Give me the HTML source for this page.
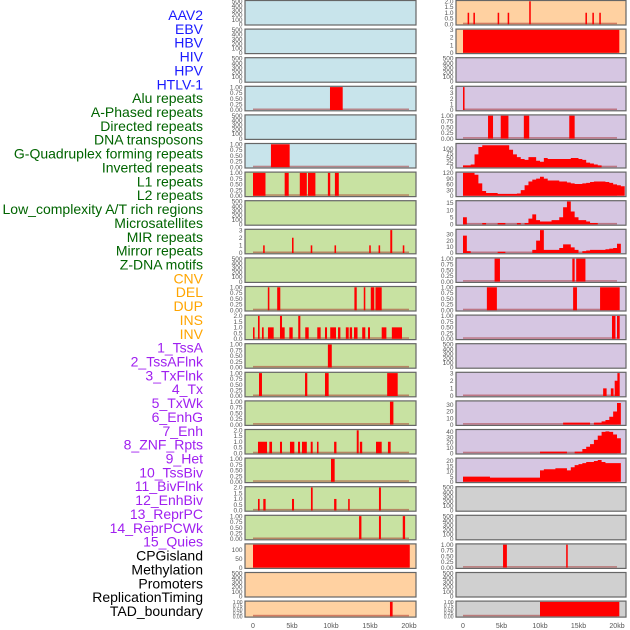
<!DOCTYPE html>
<html><head><meta charset="utf-8"><style>
html,body{margin:0;padding:0;background:#fff;}
svg{display:block;font-family:"Liberation Sans",sans-serif;}
</style></head><body>
<svg id="chart" width="630" height="630" viewBox="0 0 630 630" xmlns="http://www.w3.org/2000/svg"></svg>
<script>
// ---------- labels ----------
const rowLabels = ["AAV2","EBV","HBV","HIV","HPV","HTLV-1","Alu repeats","A-Phased repeats","Directed repeats","DNA transposons","G-Quadruplex forming repeats","Inverted repeats","L1 repeats","L2 repeats","Low_complexity A/T rich regions","Microsatellites","MIR repeats","Mirror repeats","Z-DNA motifs","CNV","DEL","DUP","INS","INV","1_TssA","2_TssAFlnk","3_TxFlnk","4_Tx","5_TxWk","6_EnhG","7_Enh","8_ZNF_Rpts","9_Het","10_TssBiv","11_BivFlnk","12_EnhBiv","13_ReprPC","14_ReprPCWk","15_Quies","CPGisland","Methylation","Promoters","ReplicationTiming","TAD_boundary"];
const labelGroups = [6,13,5,15,5];
const groupColors = ["#1a1aff","#006400","#ffa500","#a020f0","#000000"];
// ---------- ticks ----------
const t500 = ["0","100","200","300","400","500"];
const t1 = ["0.00","0.25","0.50","0.75","1.00"];
const t2 = ["0.0","0.5","1.0","1.5","2.0"];
const t3 = ["0","1","2","3"];
const t4 = ["0","1","2","3","4"];
const xTickVals = [0,5,10,15,20];
const xTickLabels = ["0","5kb","10kb","15kb","20kb"];
// ---------- data: bars [startKb,endKb,value] ----------
const r0R = [[0.6,0.8,1],[1.35,1.55,1],[4.5,4.7,1],[5.8,6.0,1],[15.9,16.1,1],[16.8,17.0,1],[17.7,17.9,1],[8.6,8.8,2]];
const r1R = [[0,20.3,3]];
const r3L = [[9.87,11.5,1]];
const r3R = [[0,0.2,4]];
const r4R = [[3.25,3.9,1],[4.9,5.9,1],[7.9,8.6,1],[13.8,14.5,1]];
const r5L = [[2.3,4.7,1]];
const r6L = [[0,1.6,1],[4.06,4.58,1],[6.0,6.9,1],[7.05,8.0,1],[9.6,9.9,1],[10.5,11.0,1]];
const r8L = [[1.3,1.5,1],[5.0,5.2,2],[7.4,7.6,1],[10.45,10.65,1],[14.9,15.1,1],[16.1,16.3,1],[17.6,17.85,3],[19.2,19.4,1]];
const r9R = [[4.1,4.8,1],[14.2,14.5,1],[14.7,15.9,1]];
const r10L = [[1.9,2.1,1],[3.1,3.5,1],[13.0,13.3,1],[14.2,14.4,1],[15.1,15.55,1],[15.7,16.5,1]];
const r10R = [[3.1,4.4,1],[14.3,14.8,1],[17.8,20.35,1]];
const r11L = [[0,0.2,1],[0.64,0.85,2],[1.15,1.37,1],[1.92,2.65,1],[3.46,3.72,2],[3.72,4.06,1],[4.66,5.09,1],[5.8,6.07,2],[6.7,7.14,1],[8.24,8.67,1],[9.23,9.49,1],[9.9,10.64,1],[10.9,11.2,1],[11.9,12.27,1],[12.4,12.7,1],[12.95,13.4,1],[14.0,14.4,1],[14.74,15.0,1],[16.5,17.1,1],[17.8,19.1,1]];
const r11R = [[19.35,19.8,1],[20.0,20.35,1]];
const r12L = [[9.6,10.1,1]];
const r13L = [[0.77,1.15,1],[6.67,6.96,1],[9.23,9.7,1],[17.2,18.55,1]];
const r13R = [[18.2,18.65,1],[19.2,19.55,1],[19.7,20.1,2],[20.05,20.35,3]];
const r14L = [[17.56,18.0,1]];
const r15L = [[0.64,1.8,1],[2.1,2.44,1],[3.46,3.72,1],[4.74,5.3,1],[5.77,6.03,1],[6.28,6.9,1],[7.4,7.65,1],[8.2,8.4,1],[10.4,10.7,1],[13.3,13.55,2],[13.7,14.0,1],[15.77,16.5,1],[17.3,17.65,1]];
const r16L = [[10.0,10.47,1]];
const r17L = [[0.64,0.85,1],[1.32,1.62,1],[5.0,5.26,1],[7.43,7.65,2],[10.4,10.7,1],[12.2,12.4,1],[16.15,16.4,2]];
const r18L = [[13.6,13.9,1],[16.15,16.4,1],[19.2,19.5,1]];
const r19L = [[0,20.1,130]];
const r19R = [[5.2,5.7,1],[13.4,13.6,1]];
const r21L = [[17.56,17.9,1]];
const r21R = [[10.0,20.3,1]];
// ---------- data: area profiles, values per 0.5kb bin starting at 0kb ----------
const r5R = [10,10,15,70,110,120,120,120,120,120,120,120,95,70,55,45,40,55,55,35,30,50,45,45,45,45,45,45,50,50,45,40,25,20,15,10];
const r6R = [120,120,120,110,65,25,15,15,15,10,10,10,10,10,12,30,55,75,85,90,100,90,80,80,80,75,75,70,65,62,62,65,68,72,75,75,75,72,68,60,55,50];
const r7R = [5,0,0,0,0,1,0,0,0,1,1,0,0,0,1,0,1,4,7,3,2,2,2,3,3,5,12,16,9,5,3,3,2,1,1,0];
const r8R = [28,3,0,0,0,0,0,0,0,2,2,0,0,0,0,0,0,0,5,20,37,5,5,5,5,8,14,14,9,5,0,3,4,5,5,5,5,6,7,8,15];
const r14R = [0,0,0,0,0,0,0,0,0,0,0,0,0,0,0,0,0,0,0,0,0,0,0,0,0,0,3,3,3,3,3,3,3,0,3,3,5,7,12,20,33];
const r15R = [0,0,0,0,0,0,0,0,0,0,0,0,0,0,0,0,0,0,0,0,3,3,3,3,3,3,3,0,0,3,3,8,12,17,25,33,40,41,40,35,28];
const r16R = [5,5,5,5,5,5,5,4,4,4,4,4,4,4,4,4,4,4,4,4,11,12,12,12,13,13,13,11,14,16,17,18,19,19,20,21,19,18,18,18,18];

const BLUE="#c8e4eb", GREEN="#c8e2a2", PEACH="#ffd1a1", LAV="#d6c6e2", GRAY="#d0d0d0";
// panel list: [row, side, bg, ticks, ymax, type, data]
const panels = [
 [0,0,BLUE,t500,500,"e",null],[0,1,PEACH,t2,2,"b",r0R],
 [1,0,BLUE,t500,500,"e",null],[1,1,PEACH,t3,3,"b",r1R],
 [2,0,BLUE,t500,500,"e",null],[2,1,LAV,t500,500,"e",null],
 [3,0,BLUE,t1,1,"b",r3L],[3,1,LAV,t4,4,"b",r3R],
 [4,0,BLUE,t500,500,"e",null],[4,1,LAV,t1,1,"b",r4R],
 [5,0,BLUE,t1,1,"b",r5L],[5,1,LAV,["0","25","50","75","100"],125,"a",r5R],
 [6,0,GREEN,t1,1,"b",r6L],[6,1,LAV,["0","30","60","90","120"],120,"a",r6R],
 [7,0,GREEN,t500,500,"e",null],[7,1,LAV,["0","5","10","15"],16,"a",r7R],
 [8,0,GREEN,t3,3,"b",r8L],[8,1,LAV,["0","10","20","30"],37,"a",r8R],
 [9,0,GREEN,t500,500,"e",null],[9,1,LAV,t1,1,"b",r9R],
 [10,0,GREEN,t1,1,"b",r10L],[10,1,LAV,t1,1,"b",r10R],
 [11,0,GREEN,t2,2,"b",r11L],[11,1,LAV,t1,1,"b",r11R],
 [12,0,GREEN,t1,1,"b",r12L],[12,1,LAV,t500,500,"e",null],
 [13,0,GREEN,t1,1,"b",r13L],[13,1,LAV,t3,3,"b",r13R],
 [14,0,GREEN,t1,1,"b",r14L],[14,1,LAV,["0","10","20","30"],35,"a",r14R],
 [15,0,GREEN,t2,2,"b",r15L],[15,1,LAV,["0","10","20","30","40"],43,"a",r15R],
 [16,0,GREEN,t1,1,"b",r16L],[16,1,LAV,["0","5","10","15","20"],22,"a",r16R],
 [17,0,GREEN,t2,2,"b",r17L],[17,1,GRAY,t500,500,"e",null],
 [18,0,GREEN,t1,1,"b",r18L],[18,1,GRAY,t500,500,"e",null],
 [19,0,PEACH,["0","50","100"],130,"b",r19L],[19,1,GRAY,t1,1,"b",r19R],
 [20,0,PEACH,t500,500,"e",null],[20,1,GRAY,t500,500,"e",null],
 [21,0,PEACH,t1,1,"b",r21L],[21,1,GRAY,t1,1,"b",r21R]
];

const NS="http://www.w3.org/2000/svg";
const svg=document.getElementById("chart");
function mk(tag,attrs,parent){const e=document.createElementNS(NS,tag);for(const k in attrs)e.setAttribute(k,attrs[k]);(parent||svg).appendChild(e);return e;}
function xScale(side,kb){return side===0?253+kb*7.8:463+kb*7.7;}
function rowTop(r){return r*28.6+0.5;}
function rowH(r){return r===21?16:24.5;}
const panelX=[245,456], panelW=[171,170];

// labels
let li=0;
labelGroups.forEach((n,g)=>{for(let k=0;k<n;k++){
  const t=mk("text",{x:203,y:15+li*13.86+5,"text-anchor":"end","font-size":"14",fill:groupColors[g]});
  t.textContent=rowLabels[li];
  
  
  li++;}});

panels.forEach(p=>{
  const [row,side,bg,ticks,ymax,type,data]=p;
  const top=rowTop(row), h=rowH(row), px=panelX[side], pw=panelW[side];
  const g=mk("g",{});
  
  
  mk("rect",{x:px,y:top,width:pw,height:h,fill:bg,stroke:"#666","stroke-width":1.2},g);
  const y0=top+h-0.8, yTop=top+0.8;
  const yS=v=>y0-(Math.min(v,ymax)/ymax)*(y0-yTop);
  // ticks
  const n=ticks.length;
  ticks.forEach((lab,i)=>{
    const tv = (n===3 && ymax===130) ? [0,50,100][i] : i/(n-1)*(type==="e"?1:(ticks===t1||ticks===t2||ticks===t3||ticks===t4?1:0));
    let ty;
    if(n===3&&ymax===130) ty=yS(tv);
    else if(ticks===t1||ticks===t2||ticks===t3||ticks===t4||type==="e") ty=y0-i/(n-1)*(y0-yTop);
    else ty=yS(parseFloat(lab));
    const t=mk("text",{x:px-2.5,y:ty+2.2,"text-anchor":"end","font-size":row===21?"5":"6.5",fill:"#555"},g);
    t.textContent=lab;
    
    
  });
  if(type!=="e"){
    mk("rect",{x:xScale(side,0),y:y0-1.5,width:xScale(side,20)-xScale(side,0),height:1.5,fill:"rgba(160,20,20,0.45)"},g);
  }
  if(type==="b"){
    data.forEach(d=>{
      const x1=xScale(side,d[0]),x2=xScale(side,d[1]);
      const r=mk("rect",{x:x1,y:yS(d[2]),width:Math.max(1.2,x2-x1),height:y0-yS(d[2]),fill:"#ff0000"},g);
      
      
    });
  } else if(type==="a"){
    let dpath="M"+xScale(side,0)+","+y0;
    data.forEach((v,i)=>{
      const xa=xScale(side,i*0.5),xb=xScale(side,i*0.5+0.5);
      dpath+=" L"+xa+","+yS(v)+" L"+xb+","+yS(v);
    });
    dpath+=" L"+xScale(side,data.length*0.5)+","+y0+" Z";
    const a=mk("path",{d:dpath,fill:"#ff0000"},g);
    
    
  }
});

// x axes
[0,1].forEach(side=>{
  xTickVals.forEach((v,i)=>{
    const t=mk("text",{x:xScale(side,v),y:628,"text-anchor":"middle","font-size":"7",fill:"#555"});
    t.textContent=xTickLabels[i];
    
    
  });
});
</script>
</body></html>
